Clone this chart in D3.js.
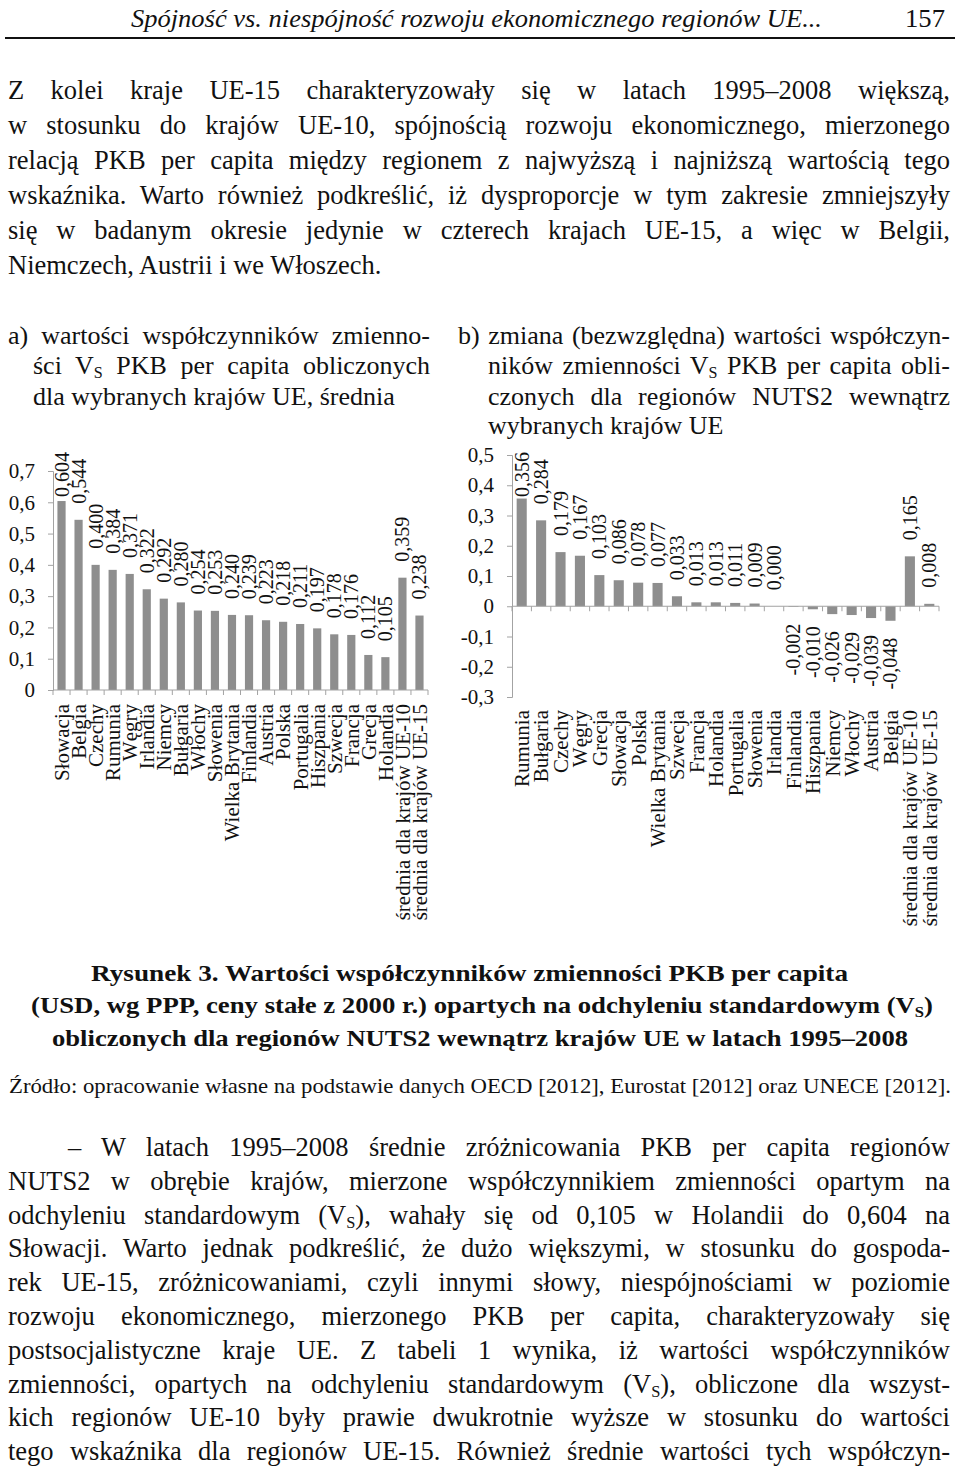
<!DOCTYPE html>
<html><head><meta charset="utf-8">
<script src="https://cdn.jsdelivr.net/npm/d3@7"></script>
<style>
body{margin:0;background:#fff}
svg{display:block}
text{font-family:"Liberation Serif","Times New Roman",serif;fill:#111}
</style>
</head><body>
<svg id="page" width="960" height="1483"></svg>
<script>
// ---------- DATA ----------
const categoriesA = ["Słowacja","Belgia","Czechy","Rumunia","Węgry","Irlandia","Niemcy","Bułgaria","Włochy","Słowenia","Wielka Brytania","Finlandia","Austria","Polska","Portugalia","Hiszpania","Szwecja","Francja","Grecja","Holandia","średnia dla krajów UE-10","średnia dla krajów UE-15"];
const valuesA = [0.604,0.544,0.400,0.384,0.371,0.322,0.292,0.280,0.254,0.253,0.240,0.239,0.223,0.218,0.211,0.197,0.178,0.176,0.112,0.105,0.359,0.238];
const ticksA = [0,0.1,0.2,0.3,0.4,0.5,0.6,0.7];
const tickLabelsA = ["0","0,1","0,2","0,3","0,4","0,5","0,6","0,7"];

const categoriesB = ["Rumunia","Bułgaria","Czechy","Węgry","Grecja","Słowacja","Polska","Wielka Brytania","Szwecja","Francja","Holandia","Portugalia","Słowenia","Irlandia","Finlandia","Hiszpania","Niemcy","Włochy","Austria","Belgia","średnia dla krajów UE-10","średnia dla krajów UE-15"];
const valuesB = [0.356,0.284,0.179,0.167,0.103,0.086,0.078,0.077,0.033,0.013,0.013,0.011,0.009,0.000,-0.002,-0.010,-0.026,-0.029,-0.039,-0.048,0.165,0.008];
const ticksB = [-0.3,-0.2,-0.1,0,0.1,0.2,0.3,0.4,0.5];
const tickLabelsB = ["-0,3","-0,2","-0,1","0","0,1","0,2","0,3","0,4","0,5"];

const fmt = v => v.toFixed(3).replace(".", ",");

const svg = d3.select("#page");
const BAR = "#8e8e8e", AX = "#a3a3a3";
const FONT = "'Liberation Serif','Times New Roman',serif";

// ---------- TEXT HELPERS ----------
function textLine(x, y, width, segs, o) {
  o = o || {};
  const size = o.size || 26.5;
  const t = svg.append("text").attr("x", x).attr("y", y)
    .style("font-family", FONT).style("font-size", size + "px");
  if (o.weight) t.style("font-weight", o.weight);
  if (o.italic) t.style("font-style", "italic");
  if (o.anchor) t.attr("text-anchor", o.anchor);
  let full = "", pending = 0;
  segs.forEach(s => {
    if (typeof s === "string") {
      const ts = t.append("tspan").text(s);
      if (pending) { ts.attr("dy", pending); pending = 0; }
      full += s;
    } else {
      const d = Math.round(size * 0.15);
      t.append("tspan").attr("dy", d).style("font-size", (size * 0.62) + "px").text(s.sub);
      pending = -d;
      full += s.sub;
    }
  });
  if (o.fit) {
    t.attr("textLength", width).attr("lengthAdjust", "spacingAndGlyphs");
  } else if (o.justify) {
    const len = t.node().getComputedTextLength();
    const n = (full.match(/ /g) || []).length;
    if (n > 0) t.style("word-spacing", ((width - len) / n) + "px");
  }
  return t;
}

// ---------- HEADER ----------
textLine(131, 27, 691, ["Spójność vs. niespójność rozwoju ekonomicznego regionów UE..."], {size: 26, italic: true, fit: true});
textLine(905, 27, 40, ["157"], {size: 26, fit: true});
svg.append("line").attr("x1", 5).attr("x2", 955).attr("y1", 38).attr("y2", 38).attr("stroke", "#111").attr("stroke-width", 2);

// ---------- PARAGRAPH 1 ----------
const p1 = [
  "Z kolei kraje UE-15 charakteryzowały się w latach 1995–2008 większą,",
  "w stosunku do krajów UE-10, spójnością rozwoju ekonomicznego, mierzonego",
  "relacją PKB per capita między regionem z najwyższą i najniższą wartością tego",
  "wskaźnika. Warto również podkreślić, iż dysproporcje w tym zakresie zmniejszyły",
  "się w badanym okresie jedynie w czterech krajach UE-15, a więc w Belgii,",
  "Niemczech, Austrii i we Włoszech."
];
p1.forEach((l, i) => textLine(8, 99 + i * 35, 942, [l], {justify: i < p1.length - 1}));

// ---------- SUBTITLES ----------
const SUB = 26;
textLine(8, 344, 422, ["a) wartości współczynników zmienno-"], {size: SUB, justify: true});
textLine(33, 374, 397, ["ści V", {sub: "S"}, " PKB per capita obliczonych"], {size: SUB, justify: true});
textLine(33, 405, 0, ["dla wybranych krajów UE, średnia"], {size: SUB});

textLine(458, 344, 492, ["b) zmiana (bezwzględna) wartości współczyn-"], {size: SUB, justify: true});
textLine(488, 374, 462, ["ników zmienności V", {sub: "S"}, " PKB per capita obli-"], {size: SUB, justify: true});
textLine(488, 405, 462, ["czonych dla regionów NUTS2 wewnątrz"], {size: SUB, justify: true});
textLine(488, 434, 0, ["wybranych krajów UE"], {size: SUB});

// ---------- CHART A ----------
(function() {
  const g = svg.append("g");
  const x = d3.scaleBand().domain(categoriesA).range([53, 428]).paddingInner(0.52).paddingOuter(0.26);
  const y = d3.scaleLinear().domain([0, 0.7]).range([690, 471]);
  const data = categoriesA.map((c, i) => ({c, v: valuesA[i]}));

  g.selectAll("rect").data(data).join("rect")
    .attr("x", d => x(d.c)).attr("width", x.bandwidth())
    .attr("y", d => y(d.v)).attr("height", d => y(0) - y(d.v))
    .attr("fill", BAR);

  const ya = g.append("g").attr("transform", "translate(53,0)")
    .call(d3.axisLeft(y).tickValues(ticksA).tickFormat((d, i) => tickLabelsA[i]).tickSize(5).tickPadding(13));
  ya.select(".domain").attr("stroke", AX);
  ya.selectAll(".tick line").attr("stroke", AX);
  ya.selectAll(".tick text").style("font-size", "21px").style("font-family", FONT).attr("fill", "#111");

  const step = x.step();
  g.append("line").attr("x1", x.range()[0]).attr("x2", x.range()[1]).attr("y1", y(0)).attr("y2", y(0)).attr("stroke", AX);
  g.selectAll("line.xt").data(d3.range(categoriesA.length + 1)).join("line").attr("class", "xt")
    .attr("x1", i => x.range()[0] + i * step).attr("x2", i => x.range()[0] + i * step)
    .attr("y1", y(0)).attr("y2", y(0) + 5).attr("stroke", AX);

  g.selectAll("text.val").data(data).join("text").attr("class", "val")
    .style("font-family", FONT).style("font-size", "20px").attr("text-anchor", "start").attr("dy", "0.35em")
    .text(d => fmt(d.v))
    .attr("transform", function(d) {
      const len = this.getComputedTextLength();
      const yy = Math.max(y(d.v) - 16, 452 + len);
      return `translate(${x(d.c) + x.bandwidth() / 2},${yy}) rotate(-90)`;
    });

  g.selectAll("text.cat").data(data).join("text").attr("class", "cat")
    .style("font-family", FONT).style("font-size", "21px").attr("text-anchor", "end").attr("dy", "0.35em")
    .attr("transform", d => `translate(${x(d.c) + x.bandwidth() / 2},704) rotate(-90)`)
    .text(d => d.c);
})();

// ---------- CHART B ----------
(function() {
  const g = svg.append("g");
  const x = d3.scaleBand().domain(categoriesB).range([512, 939]).paddingInner(0.48).paddingOuter(0.24);
  const y = d3.scaleLinear().domain([-0.3, 0.5]).range([697, 455]);
  const data = categoriesB.map((c, i) => ({c, v: valuesB[i]}));

  g.selectAll("rect").data(data).join("rect")
    .attr("x", d => x(d.c)).attr("width", x.bandwidth())
    .attr("y", d => Math.min(y(d.v), y(0))).attr("height", d => Math.abs(y(0) - y(d.v)))
    .attr("fill", BAR);

  const ya = g.append("g").attr("transform", "translate(512,0)")
    .call(d3.axisLeft(y).tickValues(ticksB).tickFormat((d, i) => tickLabelsB[i]).tickSize(5).tickPadding(13));
  ya.select(".domain").attr("stroke", AX);
  ya.selectAll(".tick line").attr("stroke", AX);
  ya.selectAll(".tick text").style("font-size", "21px").style("font-family", FONT).attr("fill", "#111");

  const step = x.step();
  g.append("line").attr("x1", x.range()[0]).attr("x2", x.range()[1]).attr("y1", y(0)).attr("y2", y(0)).attr("stroke", AX);
  g.selectAll("line.xt").data(d3.range(categoriesB.length + 1)).join("line").attr("class", "xt")
    .attr("x1", i => x.range()[0] + i * step).attr("x2", i => x.range()[0] + i * step)
    .attr("y1", y(0)).attr("y2", y(0) + 5).attr("stroke", AX);

  g.selectAll("text.val").data(data).join("text").attr("class", "val")
    .style("font-family", FONT).style("font-size", "20px").attr("dy", "0.35em")
    .attr("text-anchor", d => d.v < 0 ? "end" : "start")
    .text(d => fmt(d.v))
    .attr("transform", function(d) {
      const len = this.getComputedTextLength();
      const yy = d.v < 0 ? y(d.v) + 17 : Math.max(y(d.v) - 16, 452 + len);
      return `translate(${x(d.c) + x.bandwidth() / 2},${yy}) rotate(-90)`;
    });

  g.selectAll("text.cat").data(data).join("text").attr("class", "cat")
    .style("font-family", FONT).style("font-size", "21px").attr("text-anchor", "end").attr("dy", "0.35em")
    .attr("transform", d => `translate(${x(d.c) + x.bandwidth() / 2},710) rotate(-90)`)
    .text(d => d.c);
})();

// ---------- CAPTION ----------
textLine(91, 981, 757, ["Rysunek 3. Wartości współczynników zmienności PKB per capita"], {size: 24, weight: "bold", fit: true});
textLine(31, 1013, 902, ["(USD, wg PPP, ceny stałe z 2000 r.) opartych na odchyleniu standardowym (V", {sub: "S"}, ")"], {size: 24, weight: "bold", fit: true});
textLine(52, 1046, 856, ["obliczonych dla regionów NUTS2 wewnątrz krajów UE w latach 1995–2008"], {size: 24, weight: "bold", fit: true});
textLine(9, 1093, 942, ["Źródło: opracowanie własne na podstawie danych OECD [2012], Eurostat [2012] oraz UNECE [2012]."], {size: 22, fit: true});

// ---------- PARAGRAPH 2 ----------
const p2 = [
  [["– W latach 1995–2008 średnie zróżnicowania PKB per capita regionów"], 68],
  [["NUTS2 w obrębie krajów, mierzone współczynnikiem zmienności opartym na"], 8],
  [["odchyleniu standardowym (V", {sub: "S"}, "), wahały się od 0,105 w Holandii do 0,604 na"], 8],
  [["Słowacji. Warto jednak podkreślić, że dużo większymi, w stosunku do gospoda-"], 8],
  [["rek UE-15, zróżnicowaniami, czyli innymi słowy, niespójnościami w poziomie"], 8],
  [["rozwoju ekonomicznego, mierzonego PKB per capita, charakteryzowały się"], 8],
  [["postsocjalistyczne kraje UE. Z tabeli 1 wynika, iż wartości współczynników"], 8],
  [["zmienności, opartych na odchyleniu standardowym (V", {sub: "S"}, "), obliczone dla wszyst-"], 8],
  [["kich regionów UE-10 były prawie dwukrotnie wyższe w stosunku do wartości"], 8],
  [["tego wskaźnika dla regionów UE-15. Również średnie wartości tych współczyn-"], 8]
];
p2.forEach(([segs, x0], i) => textLine(x0, 1156 + i * 33.8, 950 - x0, segs, {justify: true}));
</script>
</body></html>
